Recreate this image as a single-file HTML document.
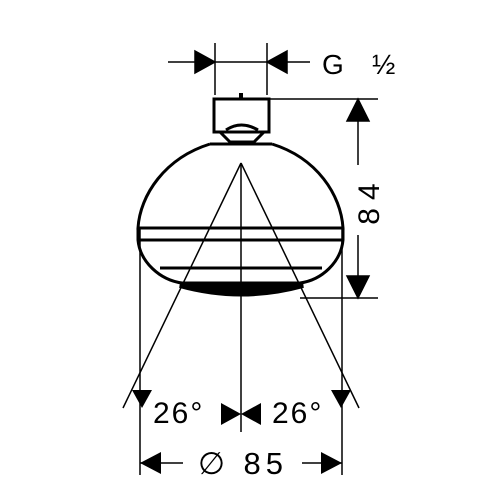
<!DOCTYPE html>
<html><head><meta charset="utf-8"><style>
html,body{margin:0;padding:0;background:#fff;width:500px;height:500px;overflow:hidden}
svg{display:block}
text{font-family:"Liberation Sans",sans-serif;fill:#000}
</style></head><body>
<svg width="500" height="500" viewBox="0 0 500 500">
<g stroke="#000" stroke-width="1.5" fill="none">
<line x1="168" y1="62" x2="310" y2="62"/>
<line x1="215" y1="43" x2="215" y2="95"/>
<line x1="267" y1="43" x2="267" y2="95"/>
<polygon points="195,51 215,62 195,73" fill="#000"/>
<polygon points="287,51 267,62 287,73" fill="#000"/>
</g>
<text x="322" y="74" font-size="28">G</text>
<text x="372" y="74" font-size="28">½</text>
<g stroke="#000" stroke-width="3" fill="none">
<rect x="214" y="99" width="55" height="33"/>
<line x1="241" y1="93" x2="241" y2="99" stroke-width="4"/>
<path d="M220,132 L230,142 L254,142 L264,132"/>
<path d="M226,130 Q241,120 258,130"/>
<path d="M210,144 L272,144"/>
<path d="M210,144 C165,158 140,195 138,228 L343,228 C341,195 317,158 272,144"/>
<path d="M138,228 L138,240 C140,262 160,280 182,283 L300,283 C322,280 341,262 343,240 L343,228"/>
<line x1="138" y1="240" x2="343" y2="240"/>
<line x1="160" y1="268" x2="322" y2="268"/>
</g>
<path d="M180,285 Q241,302 303,285 Z" fill="#000" stroke="#000" stroke-width="6"/>
<g stroke="#000" stroke-width="1.5" fill="none">
<line x1="241" y1="163" x2="241" y2="432"/>
<line x1="241" y1="163" x2="123" y2="408"/>
<line x1="241" y1="163" x2="359" y2="408"/>
<line x1="140" y1="228" x2="140" y2="475"/>
<line x1="342" y1="228" x2="342" y2="475"/>
</g>
<g stroke="#000" stroke-width="1.5" fill="none">
<line x1="270" y1="99" x2="378" y2="99"/>
<line x1="300" y1="298" x2="378" y2="298"/>
<line x1="358" y1="99" x2="358" y2="165"/>
<line x1="358" y1="235" x2="358" y2="298"/>
<polygon points="347,121 358,99 369,121" fill="#000"/>
<polygon points="347,276 358,298 369,276" fill="#000"/>
</g>
<text x="0" y="0" font-size="30" transform="translate(379,200) rotate(-90)" text-anchor="middle" letter-spacing="8">84</text>
<g fill="#000">
<polygon points="132,390 152,390 142,408"/>
<polygon points="331,390 351,390 341,408"/>
<polygon points="221,403 241,414 221,425"/>
<polygon points="261,403 241,414 261,425"/>
</g>
<text x="153" y="423" font-size="30" letter-spacing="2">26°</text>
<text x="272" y="423" font-size="30" letter-spacing="2">26°</text>
<g stroke="#000" stroke-width="1.5" fill="#000">
<line x1="140" y1="463" x2="183" y2="463"/>
<line x1="302" y1="463" x2="342" y2="463"/>
<polygon points="140,463 161,452 161,474" stroke="none"/>
<polygon points="342,463 321,452 321,474" stroke="none"/>
</g>
<text x="243" y="474" font-size="31" text-anchor="middle" letter-spacing="5">∅ 85</text>
</svg>
</body></html>
